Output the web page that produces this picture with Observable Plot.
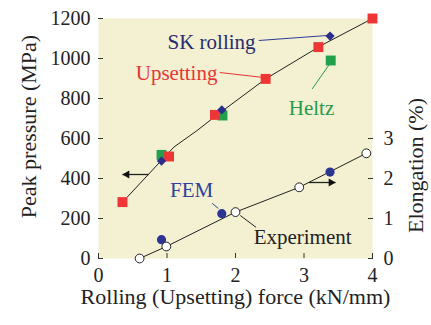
<!DOCTYPE html>
<html><head><meta charset="utf-8">
<script src="https://cdn.jsdelivr.net/npm/d3@7"></script>
<script src="https://cdn.jsdelivr.net/npm/@observablehq/plot@0.6"></script>
<style>
body{margin:0;background:#fff}
#chart svg, #chart svg text { font-family: "Liberation Serif", "Times New Roman", serif !important; }
</style>
</head><body><div id="chart"></div>
<script>
// Peak pressure (MPa) vs force (kN/mm)
const upsForce = [0.35, 1.03, 1.70, 2.44, 3.21, 4.00];
const upsPress = [282, 510, 718, 898, 1057, 1200];
const skForce = [0.92, 1.80, 3.38];
const skPress = [487, 743, 1112];
const heltzForce = [0.92, 1.81, 3.39];
const heltzPress = [518, 715, 990];
const fitForce = [0.42, 1.10, 1.44, 1.72, 2.44, 3.25, 4.00];
const fitPress = [307, 557, 640, 715, 898, 1065, 1200];
// Elongation (%) vs force
const expForce = [0.60, 0.99, 2.00, 2.93, 3.91];
const expElong = [0.00, 0.30, 1.16, 1.78, 2.63];
const femForce = [0.92, 1.80, 3.38];
const femElong = [0.47, 1.12, 2.16];
// axes
const xTicks = [0, 1, 2, 3, 4];
const yTicks = [0, 200, 400, 600, 800, 1000, 1200];
const elongTicks = [0, 1, 2, 3];
const elongPerPress = 200; // 1% elongation shares the height of 200 MPa
const xTitle = "Rolling (Upsetting) force (kN/mm)";
const yTitle = "Peak pressure (MPa)";
const y2Title = "Elongation (%)";
// annotations (data units: force, pressure-equivalent)
const annText = ["SK rolling", "Upsetting", "Heltz", "FEM", "Experiment"];
const annX = [1.65, 1.14, 3.11, 1.36, 2.98];
const annY = [1081, 925, 750, 340, 104];
const annColor = ["#2a2b6e", "#e83535", "#2a9a4a", "#2e3fa0", "#222"];
const leadX1 = [2.34, 1.77, 3.12, 1.66, 2.07];
const leadY1 = [1090, 930, 848, 276, 215];
const leadX2 = [3.34, 2.41, 3.39, 1.75, 2.30];
const leadY2 = [1115, 905, 980, 250, 156];
const leadColor = ["#2e3a9a", "#e83535", "#2a9a4a", "#2e3fa0", "#222"];
// axis-pointing arrows: left one points to pressure axis, right one to elongation axis
const leftArrowX = [0.73, 0.35];
const rightArrowX = [3.07, 3.46];
const leftArrowY = 420;
const rightArrowY = 380;

const zip = (a, b) => a.map((v, i) => ({x: v, y: b[i]}));
const ups = zip(upsForce, upsPress);
const sk = zip(skForce, skPress);
const heltz = zip(heltzForce, heltzPress);
const fit = zip(fitForce, fitPress);
const exp = zip(expForce, expElong.map(e => e * elongPerPress));
const fem = zip(femForce, femElong.map(e => e * elongPerPress));
const ann = annText.map((t, i) => ({t, x: annX[i], y: annY[i], c: annColor[i]}));
const leads = annText.map((t, i) => ({x1: leadX1[i], y1: leadY1[i], x2: leadX2[i], y2: leadY2[i], c: leadColor[i]}));
const shafts = [
  {x1: leftArrowX[0], x2: leftArrowX[1], y: leftArrowY},
  {x1: rightArrowX[0], x2: rightArrowX[1], y: rightArrowY}
];

const chart = Plot.plot({
  width: 431, height: 325,
  marginLeft: 98, marginRight: 59, marginTop: 18, marginBottom: 67,
  style: {fontFamily: "'Liberation Serif', 'Times New Roman', serif", background: "#fff", color: "#222"},
  x: {domain: [0, 4]},
  y: {domain: [0, 1200]},
  marks: [
    Plot.frame({fill: "#f3f1d2"}),
    Plot.axisX({ticks: xTicks, tickFormat: d => String(d), tickSize: -5, tickPadding: 14, fontSize: 20, label: null, stroke: "#333", fill: "#222"}),
    Plot.axisY({ticks: yTicks, tickFormat: d => String(d), tickSize: -5, tickPadding: 13, fontSize: 20, label: null, stroke: "#333", fill: "#222"}),
    Plot.axisY({anchor: "right", ticks: elongTicks.map(e => e * elongPerPress), tickFormat: d => String(d / elongPerPress),
      tickSize: -5, tickPadding: 16, fontSize: 20, label: null, stroke: "#333", fill: "#222"}),
    Plot.text([xTitle], {text: d => d, frameAnchor: "bottom", dy: 45, fontSize: 22, fill: "#222"}),
    Plot.text([yTitle], {text: d => d, frameAnchor: "left", textAnchor: "middle", dx: -70, dy: -12, rotate: -90, fontSize: 22, fill: "#222"}),
    Plot.text([y2Title], {text: d => d, frameAnchor: "right", textAnchor: "middle", dx: 43, dy: 27, rotate: -90, fontSize: 22, fill: "#222"}),
    Plot.line(fit, {x: "x", y: "y", stroke: "#222", strokeWidth: 1}),
    Plot.line(exp, {x: "x", y: "y", stroke: "#222", strokeWidth: 1}),
    Plot.link(leads, {x1: "x1", y1: "y1", x2: "x2", y2: "y2", stroke: "c", strokeWidth: 1}),
    Plot.link(shafts, {x1: "x1", y1: "y", x2: "x2", y2: "y", stroke: "#222", strokeWidth: 1.3}),
    Plot.dot([{x: leftArrowX[1], y: leftArrowY}], {x: "x", y: "y", symbol: "triangle", r: 3, rotate: -90, dx: 4.5, fill: "#111"}),
    Plot.dot([{x: rightArrowX[1], y: rightArrowY}], {x: "x", y: "y", symbol: "triangle", r: 3, rotate: 90, dx: -4.5, fill: "#111"}),
    Plot.dot(heltz, {x: "x", y: "y", symbol: "square", r: 5.6, fill: "#22a04e"}),
    Plot.dot(ups, {x: "x", y: "y", symbol: "square", r: 5.6, fill: "#ee3636"}),
    Plot.dot(sk, {x: "x", y: "y", symbol: "diamond2", r: 4.2, fill: "#2a2d8a"}),
    Plot.dot(fem, {x: "x", y: "y", r: 4.6, fill: "#2d3592"}),
    Plot.dot(exp, {x: "x", y: "y", r: 4.4, fill: "#fff", stroke: "#222", strokeWidth: 1}),
    Plot.text(ann, {x: "x", y: "y", text: "t", fill: "c", fontSize: 21})
  ]
});
document.getElementById("chart").appendChild(chart);
</script>
</body></html>
